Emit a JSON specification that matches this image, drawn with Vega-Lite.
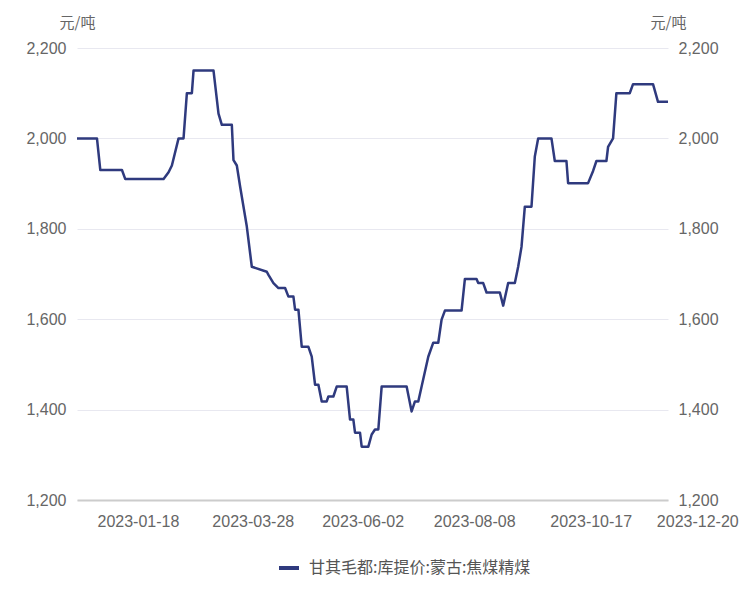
{
  "$schema": "https://vega.github.io/schema/vega-lite/v6.json",
  "autosize": {"type": "none"},
  "padding": {"left": 77, "top": 48, "right": 87, "bottom": 95},
  "width": 591,
  "height": 452,
  "background": "white",
  "config": {"view": {"stroke": null}, "font": "Liberation Sans"},
  "data": {"values": [
    {"date": "2023-01-06", "price": 2000}, {"date": "2023-01-18", "price": 2000},
    {"date": "2023-01-20", "price": 1930}, {"date": "2023-02-02", "price": 1930},
    {"date": "2023-02-04", "price": 1910}, {"date": "2023-02-27", "price": 1910},
    {"date": "2023-03-02", "price": 1925}, {"date": "2023-03-04", "price": 1940},
    {"date": "2023-03-08", "price": 2000}, {"date": "2023-03-11", "price": 2000},
    {"date": "2023-03-13", "price": 2100}, {"date": "2023-03-16", "price": 2100},
    {"date": "2023-03-17", "price": 2150}, {"date": "2023-03-29", "price": 2150},
    {"date": "2023-04-01", "price": 2055}, {"date": "2023-04-03", "price": 2030},
    {"date": "2023-04-09", "price": 2030}, {"date": "2023-04-10", "price": 1952},
    {"date": "2023-04-12", "price": 1940}, {"date": "2023-04-14", "price": 1893},
    {"date": "2023-04-18", "price": 1805}, {"date": "2023-04-21", "price": 1716},
    {"date": "2023-04-30", "price": 1705}, {"date": "2023-05-01", "price": 1698},
    {"date": "2023-05-04", "price": 1680}, {"date": "2023-05-07", "price": 1669},
    {"date": "2023-05-11", "price": 1669}, {"date": "2023-05-13", "price": 1650},
    {"date": "2023-05-16", "price": 1650}, {"date": "2023-05-17", "price": 1621},
    {"date": "2023-05-19", "price": 1621}, {"date": "2023-05-21", "price": 1539},
    {"date": "2023-05-25", "price": 1539}, {"date": "2023-05-27", "price": 1517},
    {"date": "2023-05-29", "price": 1455}, {"date": "2023-05-31", "price": 1455},
    {"date": "2023-06-02", "price": 1418}, {"date": "2023-06-05", "price": 1418},
    {"date": "2023-06-06", "price": 1429}, {"date": "2023-06-09", "price": 1429},
    {"date": "2023-06-11", "price": 1451}, {"date": "2023-06-17", "price": 1451},
    {"date": "2023-06-19", "price": 1378}, {"date": "2023-06-21", "price": 1378},
    {"date": "2023-06-22", "price": 1349}, {"date": "2023-06-25", "price": 1349},
    {"date": "2023-06-26", "price": 1318}, {"date": "2023-06-30", "price": 1318},
    {"date": "2023-07-02", "price": 1345}, {"date": "2023-07-04", "price": 1356},
    {"date": "2023-07-06", "price": 1356}, {"date": "2023-07-08", "price": 1451},
    {"date": "2023-07-23", "price": 1451}, {"date": "2023-07-26", "price": 1396},
    {"date": "2023-07-28", "price": 1418}, {"date": "2023-07-30", "price": 1418},
    {"date": "2023-08-01", "price": 1451}, {"date": "2023-08-05", "price": 1517},
    {"date": "2023-08-08", "price": 1548}, {"date": "2023-08-11", "price": 1548},
    {"date": "2023-08-13", "price": 1599}, {"date": "2023-08-15", "price": 1619},
    {"date": "2023-08-25", "price": 1619}, {"date": "2023-08-27", "price": 1689},
    {"date": "2023-09-03", "price": 1689}, {"date": "2023-09-04", "price": 1680},
    {"date": "2023-09-07", "price": 1680}, {"date": "2023-09-09", "price": 1659},
    {"date": "2023-09-17", "price": 1659}, {"date": "2023-09-19", "price": 1630},
    {"date": "2023-09-22", "price": 1680}, {"date": "2023-09-26", "price": 1680},
    {"date": "2023-09-28", "price": 1716}, {"date": "2023-09-30", "price": 1760},
    {"date": "2023-10-02", "price": 1849}, {"date": "2023-10-06", "price": 1849},
    {"date": "2023-10-08", "price": 1960}, {"date": "2023-10-10", "price": 2000},
    {"date": "2023-10-18", "price": 2000}, {"date": "2023-10-20", "price": 1950},
    {"date": "2023-10-27", "price": 1950}, {"date": "2023-10-28", "price": 1901},
    {"date": "2023-11-09", "price": 1901}, {"date": "2023-11-12", "price": 1928},
    {"date": "2023-11-14", "price": 1950}, {"date": "2023-11-20", "price": 1950},
    {"date": "2023-11-21", "price": 1981}, {"date": "2023-11-24", "price": 2000},
    {"date": "2023-11-26", "price": 2100}, {"date": "2023-12-04", "price": 2100},
    {"date": "2023-12-06", "price": 2120}, {"date": "2023-12-18", "price": 2120},
    {"date": "2023-12-21", "price": 2081}, {"date": "2023-12-27", "price": 2081}
  ]},
  "encoding": {
    "x": {
      "field": "date", "type": "temporal",
      "scale": {"type": "utc", "domain": [{"year": 2023, "month": 1, "date": 6, "utc": true}, {"year": 2023, "month": 12, "date": 27, "utc": true}]},
      "axis": {
        "title": null,
        "values": [
          {"year": 2023, "month": 1, "date": 18, "utc": true},
          {"year": 2023, "month": 3, "date": 28, "utc": true},
          {"year": 2023, "month": 6, "date": 2, "utc": true},
          {"year": 2023, "month": 8, "date": 8, "utc": true},
          {"year": 2023, "month": 10, "date": 17, "utc": true},
          {"year": 2023, "month": 12, "date": 20, "utc": true}
        ],
        "labelExpr": "utcFormat(datum.value, '%Y-%m-%d')",
        "labelAlign": "left", "labelFlush": false, "labelOverlap": false, "labelBound": false,
        "labelFontSize": 16, "labelColor": "#666666", "labelPadding": 13,
        "ticks": false, "grid": false,
        "domainColor": "#cccccc", "domainWidth": 2
      }
    }
  },
  "layer": [
    {
      "mark": {"type": "line", "strokeWidth": 2.5, "strokeJoin": "round"},
      "encoding": {
        "y": {
          "field": "price", "type": "quantitative",
          "scale": {"domain": [1200, 2200], "nice": false, "zero": false},
          "axis": {
            "title": "元/吨", "titleAngle": 0, "titleX": 0, "titleY": -18,
            "titleAlign": "center", "titleBaseline": "bottom",
            "titleFont": "Noto Sans CJK SC", "titleFontSize": 15, "titleFontWeight": "normal", "titleColor": "#666666",
            "values": [1200, 1400, 1600, 1800, 2000, 2200], "format": ",d",
            "labelFontSize": 16, "labelColor": "#666666", "labelPadding": 11,
            "ticks": false, "domain": false,
            "grid": true, "gridColor": "#e8e8f0", "gridWidth": 1
          }
        },
        "color": {
          "datum": "甘其毛都:库提价:蒙古:焦煤精煤",
          "scale": {"range": ["#2f3a7e"]},
          "legend": {
            "title": null, "orient": "none", "legendX": 200, "legendY": 508,
            "symbolType": "stroke", "symbolStrokeWidth": 4, "symbolSize": 400,
            "labelFont": "Noto Sans CJK SC", "labelFontSize": 16, "labelColor": "#555555", "labelOffset": 8,
            "labelLimit": 0
          }
        }
      }
    },
    {
      "mark": {"type": "line", "opacity": 0},
      "encoding": {
        "y": {
          "field": "price", "type": "quantitative",
          "scale": {"domain": [1200, 2200], "nice": false, "zero": false},
          "axis": {
            "orient": "right",
            "title": "元/吨", "titleAngle": 0, "titleX": 0, "titleY": -18,
            "titleAlign": "center", "titleBaseline": "bottom",
            "titleFont": "Noto Sans CJK SC", "titleFontSize": 15, "titleFontWeight": "normal", "titleColor": "#666666",
            "values": [1200, 1400, 1600, 1800, 2000, 2200], "format": ",d",
            "labelFontSize": 16, "labelColor": "#666666", "labelPadding": 10,
            "ticks": false, "domain": false, "grid": false
          }
        }
      }
    }
  ],
  "resolve": {"scale": {"y": "independent"}}
}
